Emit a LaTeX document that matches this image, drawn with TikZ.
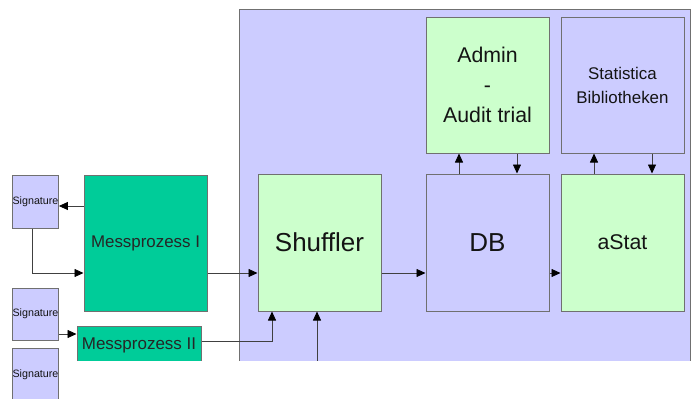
\documentclass[tikz,border=0pt]{standalone}
\usepackage{fontspec}
\setmainfont{Liberation Sans}
\usetikzlibrary{arrows.meta}
\definecolor{panelblue}{HTML}{CCCCFF}
\definecolor{lightgreen}{HTML}{CCFFCC}
\definecolor{mpgreen}{HTML}{00CC99}
\definecolor{boxline}{HTML}{707070}
\definecolor{conn}{HTML}{404040}
\definecolor{txt}{HTML}{141414}
\tikzset{
  box/.style={draw=boxline, line width=1pt, inner sep=0pt, text=txt, align=center},
  bluebox/.style={box, fill=panelblue},
  greenbox/.style={box, fill=lightgreen},
  mpbox/.style={box, fill=mpgreen, text=black!85},
  sigbox/.style={bluebox, minimum width=45pt, minimum height=53pt, font=\fontsize{10.7}{12}\selectfont},
  bigbox/.style={minimum width=123pt, minimum height=136pt},
  arr/.style={draw=conn, line width=0.8pt, -{Triangle[length=9pt,width=8pt,color=black]}},
}
\begin{document}
\begin{tikzpicture}[x=1pt,y=-1pt]
\useasboundingbox (0,0) rectangle (691,399);
\fill[white] (0,0) rectangle (691,399);
\clip (0,0) rectangle (691,399);
\begin{scope}
\clip (0,0) rectangle (691,360);
\node[bluebox, minimum width=451pt, minimum height=362pt] (panel) at (464.5,190) {};
\node[greenbox, bigbox, font=\fontsize{21.3}{30}\selectfont] (admin) at (487.5,85) {Admin\\-\\Audit trial};
\node[bluebox, bigbox, font=\fontsize{16.9}{24}\selectfont] (stat) at (622.5,85) {Statistica\\Bibliotheken};
\node[greenbox, bigbox, minimum height=137pt, font=\fontsize{26}{30}\selectfont] (sh) at (319.5,242.5) {Shuffler};
\node[bluebox, bigbox, minimum height=137pt, font=\fontsize{26}{30}\selectfont] (db) at (487.5,242.5) {DB};
\node[greenbox, bigbox, minimum height=137pt, font=\fontsize{21.3}{26}\selectfont] (astat) at (622.5,242.5) {aStat};
\node[mpbox, minimum width=124pt, minimum height=38pt, font=\fontsize{17}{20}\selectfont] (mp2) at (139,345) {Messprozess II};
\coordinate (ext) at (317,370);
\draw[arr] (mp2.east |- 0,341) -| (sh.south -| 272,0);
\draw[arr] (ext) -- (sh.south -| ext);
\end{scope}
\node[mpbox, bigbox, font=\fontsize{16.9}{20}\selectfont] (mp1) at (145.5,243) {Messprozess I};
\node[sigbox] (sig1) at (35.5,201.5) {Signature};
\node[sigbox, minimum height=52pt] (sig2) at (35.5,314) {Signature};
\node[sigbox] (sig3) at (35.5,374.5) {Signature};
% connectors
\draw[arr] (mp1.west |- 0,206) -- (sig1.east |- 0,206);
\draw[arr] (sig1.south -| 32,0) |- (mp1.west |- 0,273);
\draw[arr] (mp1.east |- 0,273) -- (sh.west |- 0,273);
\draw[arr] (sig2.east |- 0,334) -- (mp2.west |- 0,334);
\draw[arr] (sh.east |- 0,273) -- (db.west |- 0,273);
\draw[arr] (db.east |- 0,273) -- (astat.west |- 0,273);
\draw[arr] (db.north -| 459,0) -- (admin.south -| 459,0);
\draw[arr] (admin.south -| 517,0) -- (db.north -| 517,0);
\draw[arr] (astat.north -| 594,0) -- (stat.south -| 594,0);
\draw[arr] (stat.south -| 652,0) -- (astat.north -| 652,0);
\end{tikzpicture}
\end{document}
